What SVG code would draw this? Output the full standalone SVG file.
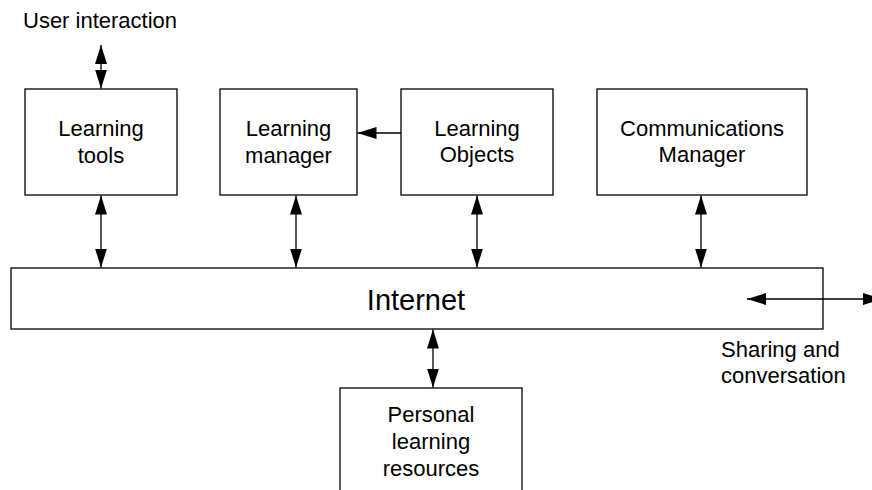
<svg xmlns="http://www.w3.org/2000/svg" width="872" height="490" viewBox="0 0 872 490">
  <style>
    .box { fill: #ffffff; stroke: #000000; stroke-width: 1.3; }
    .lbl { font-family: "Liberation Sans", Arial, sans-serif; font-size: 22px; fill: #000000; }
    .mid { text-anchor: middle; }
    .big { font-size: 29px; }
    .conn { stroke: #000000; stroke-width: 1.3; fill: none; }
  </style>
  <defs>
    <marker id="head" markerUnits="userSpaceOnUse" markerWidth="19" markerHeight="12" refX="19" refY="6" orient="auto-start-reverse" viewBox="0 0 19 12">
      <path d="M0,0 L19,6 L0,12 Z" fill="#000000"/>
    </marker>
  </defs>
  <rect width="872" height="490" fill="#ffffff"/>

  <text class="lbl" x="23" y="28">User interaction</text>

  <g id="learning-tools">
    <rect class="box" x="25" y="89" width="152" height="106"/>
    <text class="lbl mid" x="101" y="136">Learning</text>
    <text class="lbl mid" x="101" y="162.5">tools</text>
  </g>

  <g id="learning-manager">
    <rect class="box" x="220" y="89" width="137" height="106"/>
    <text class="lbl mid" x="288.5" y="136">Learning</text>
    <text class="lbl mid" x="288.5" y="162.5">manager</text>
  </g>

  <g id="learning-objects">
    <rect class="box" x="401" y="89" width="152" height="106"/>
    <text class="lbl mid" x="477" y="136">Learning</text>
    <text class="lbl mid" x="477" y="162">Objects</text>
  </g>

  <g id="communications-manager">
    <rect class="box" x="597" y="89" width="210" height="106"/>
    <text class="lbl mid" x="702" y="135.5">Communications</text>
    <text class="lbl mid" x="702" y="162">Manager</text>
  </g>

  <g id="internet">
    <rect class="box" x="11" y="268" width="812" height="61"/>
    <text class="lbl big mid" x="416" y="310">Internet</text>
  </g>

  <g id="personal-learning-resources">
    <rect class="box" x="340" y="388" width="182" height="130"/>
    <text class="lbl mid" x="431" y="421.5">Personal</text>
    <text class="lbl mid" x="431" y="448.5">learning</text>
    <text class="lbl mid" x="431" y="475.5">resources</text>
  </g>

  <text class="lbl" x="721" y="357">Sharing and</text>
  <text class="lbl" x="721" y="383">conversation</text>

  <g id="connectors">
    <line class="conn" x1="101" y1="45" x2="101" y2="88.5" marker-start="url(#head)" marker-end="url(#head)"/>
    <line class="conn" x1="401" y1="133" x2="357.5" y2="133" marker-end="url(#head)"/>
    <line class="conn" x1="101" y1="195.5" x2="101" y2="267.5" marker-start="url(#head)" marker-end="url(#head)"/>
    <line class="conn" x1="296" y1="195.5" x2="296" y2="267.5" marker-start="url(#head)" marker-end="url(#head)"/>
    <line class="conn" x1="477" y1="195.5" x2="477" y2="267.5" marker-start="url(#head)" marker-end="url(#head)"/>
    <line class="conn" x1="701" y1="195.5" x2="701" y2="267.5" marker-start="url(#head)" marker-end="url(#head)"/>
    <line class="conn" x1="433" y1="329.5" x2="433" y2="387.5" marker-start="url(#head)" marker-end="url(#head)"/>
    <line class="conn" x1="747" y1="299" x2="882" y2="299" marker-start="url(#head)" marker-end="url(#head)"/>
  </g>
</svg>
